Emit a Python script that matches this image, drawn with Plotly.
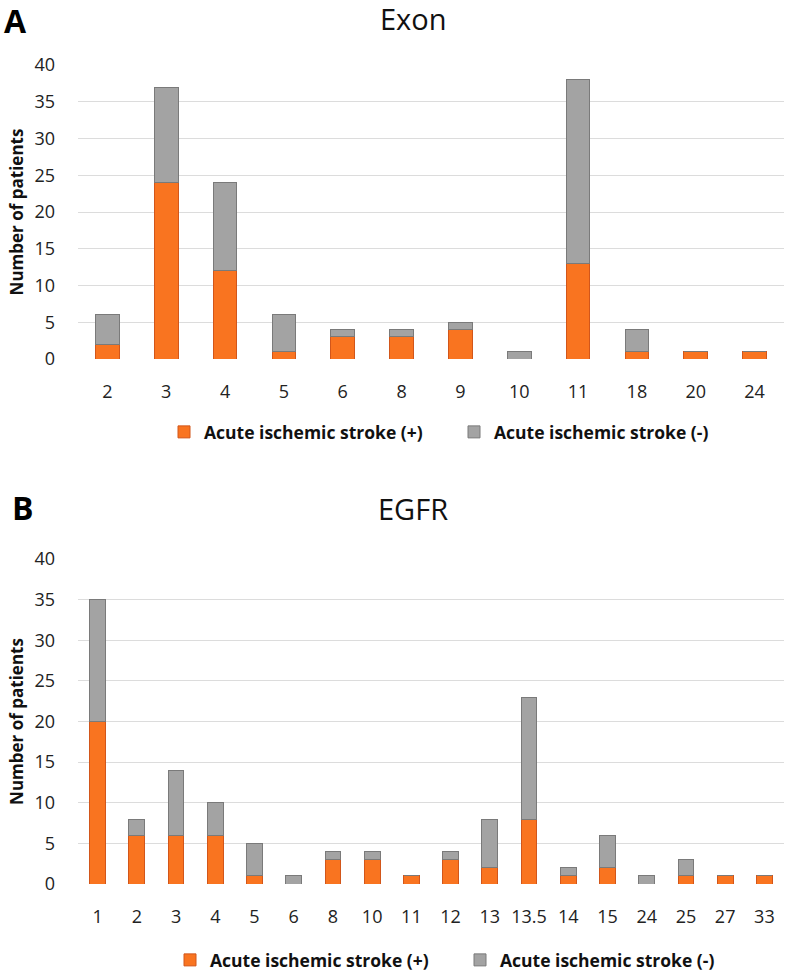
import plotly.graph_objects as go

exon_cats = ["2", "3", "4", "5", "6", "8", "9", "10", "11", "18", "20", "24"]
exon_pos = [2, 24, 12, 1, 3, 3, 4, 0, 13, 1, 1, 1]
exon_neg = [4, 13, 12, 5, 1, 1, 1, 1, 25, 3, 0, 0]

egfr_cats = ["1", "2", "3", "4", "5", "6", "8", "10", "11", "12", "13", "13.5",
             "14", "15", "24", "25", "27", "33"]
egfr_pos = [20, 6, 6, 6, 1, 0, 3, 3, 1, 3, 2, 8, 1, 2, 0, 1, 1, 1]
egfr_neg = [15, 2, 8, 4, 4, 1, 1, 1, 0, 1, 6, 15, 1, 4, 1, 2, 0, 0]

y_ticks = [0, 5, 10, 15, 20, 25, 30, 35, 40]
pos_name = "<b>Acute ischemic stroke (+)</b>"
neg_name = "<b>Acute ischemic stroke (-)</b>"

ORANGE = "#F97420"
ORANGE_EDGE = "#D2561A"
GRAY = "#A3A3A3"
GRAY_EDGE = "#7A7A7A"
FONT = "Open Sans"

fig = go.Figure()

fig.add_trace(go.Bar(x=exon_cats, y=exon_pos, name=pos_name, xaxis="x", yaxis="y",
                     marker=dict(color=ORANGE, line=dict(color=ORANGE_EDGE, width=1)),
                     legend="legend"))
fig.add_trace(go.Bar(x=exon_cats, y=exon_neg, name=neg_name, xaxis="x", yaxis="y",
                     marker=dict(color=GRAY, line=dict(color=GRAY_EDGE, width=1)),
                     legend="legend"))
fig.add_trace(go.Bar(x=egfr_cats, y=egfr_pos, name=pos_name, xaxis="x2", yaxis="y2",
                     marker=dict(color=ORANGE, line=dict(color=ORANGE_EDGE, width=1)),
                     legend="legend2"))
fig.add_trace(go.Bar(x=egfr_cats, y=egfr_neg, name=neg_name, xaxis="x2", yaxis="y2",
                     marker=dict(color=GRAY, line=dict(color=GRAY_EDGE, width=1)),
                     legend="legend2"))

H = 977.0
W = 787.0
xdom = [78 / W, 784 / W]

axis_common_x = dict(showline=False, ticks="", showgrid=False, zeroline=False, automargin=False,
                     tickfont=dict(family=FONT, size=18, color="#222"), type="category",
                     ticklabelstandoff=20)
ytitle = dict(text="<b>Number of patients</b>", font=dict(family=FONT, size=17, color="#111"),
              standoff=6)
axis_common_y = dict(range=[0, 40], tickvals=y_ticks, showgrid=True, gridcolor="#DCDCDC",
                     gridwidth=1, zeroline=False, showline=False, ticks="", automargin=False,
                     tickfont=dict(family=FONT, size=18, color="#222"), ticklabelstandoff=22,
                     title=ytitle)

legend_common = dict(orientation="h", yanchor="middle", xanchor="left",
                     font=dict(family=FONT, size=17.5, color="#111"), entrywidth=245, itemwidth=30,
                     traceorder="normal")

fig.update_layout(
    width=787, height=977,
    margin=dict(l=0, r=0, t=0, b=0, autoexpand=False),
    paper_bgcolor="white", plot_bgcolor="white",
    barmode="stack",
    bargap=0.6,
    xaxis=dict(domain=xdom, anchor="y", **axis_common_x),
    yaxis=dict(domain=[1 - 359 / H, 1 - 65 / H], anchor="x", **axis_common_y),
    xaxis2=dict(domain=xdom, anchor="y2", **axis_common_x),
    yaxis2=dict(domain=[1 - 884 / H, 1 - 559 / H], anchor="x2", **axis_common_y),
    legend=dict(x=164 / W, y=1 - 432 / H, **legend_common),
    legend2=dict(x=170 / W, y=1 - 960 / H, **legend_common),
    annotations=[
        dict(text="<b>A</b>", x=2 / W, y=1 - 20 / H, xref="paper", yref="paper", xanchor="left",
             yanchor="middle", showarrow=False, font=dict(family=FONT, size=32, color="#000")),
        dict(text="Exon", x=413 / W, y=1 - 18 / H, xref="paper", yref="paper", xanchor="center",
             yanchor="middle", showarrow=False, font=dict(family=FONT, size=29, color="#111")),
        dict(text="<b>B</b>", x=10 / W, y=1 - 507 / H, xref="paper", yref="paper", xanchor="left",
             yanchor="middle", showarrow=False, font=dict(family=FONT, size=32, color="#000")),
        dict(text="EGFR", x=413 / W, y=1 - 508 / H, xref="paper", yref="paper", xanchor="center",
             yanchor="middle", showarrow=False, font=dict(family=FONT, size=29, color="#111")),
    ],
)

fig.write_html("out.html", config={"displayModeBar": False},
               post_script="document.body.style.margin='0';document.body.style.padding='0';")
